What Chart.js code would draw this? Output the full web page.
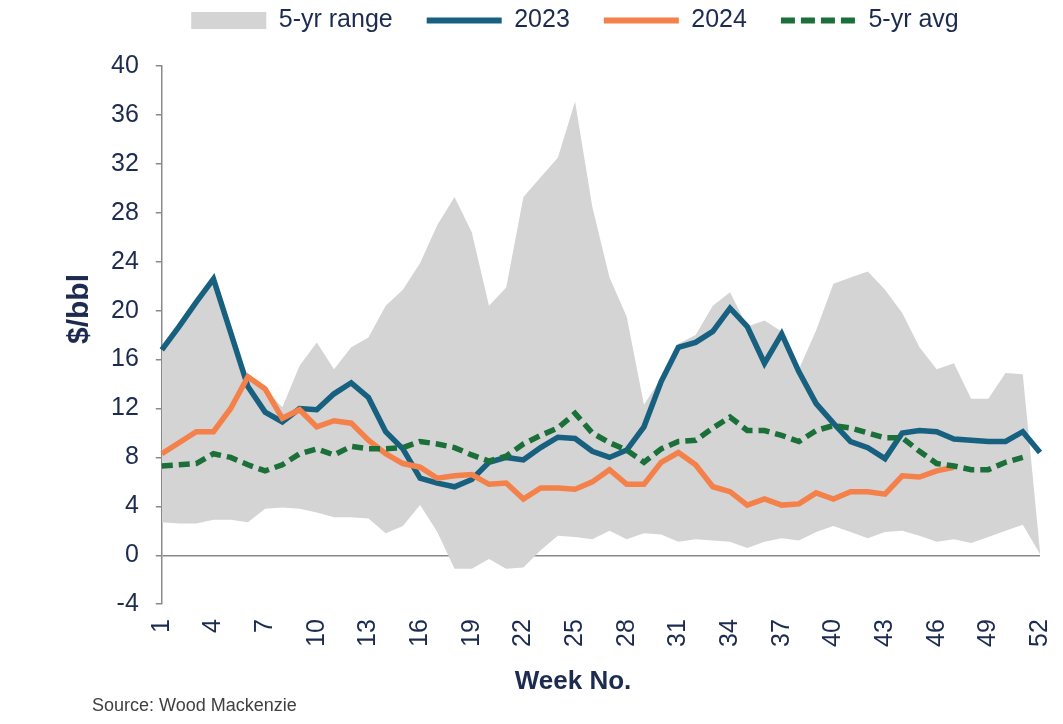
<!DOCTYPE html>
<html>
<head>
<meta charset="utf-8">
<script src="https://cdn.jsdelivr.net/npm/chart.js@4.4.0/dist/chart.umd.min.js"></script>
<style>
  html, body { margin: 0; padding: 0; background: #fff; }
  #wrap { position: relative; width: 1063px; height: 724px; }
  #source { position: absolute; left: 92px; top: 695px; font: 18px "Liberation Sans", Arial, sans-serif; color: #404040; }
  #xtitle { position: absolute; left: 473px; width: 200px; top: 665px; line-height: 30px; text-align: center;
    font: bold 26px "Liberation Sans", Arial, sans-serif; color: #1c2b4f; }
  #ytitle { position: absolute; left: 28px; width: 100px; top: 292px; height: 34px; line-height: 34px; text-align: center;
    font: bold 30px "Liberation Sans", Arial, sans-serif; color: #1c2b4f; transform: rotate(-90deg); }
</style>
</head>
<body>
<div id="wrap">
  <canvas id="myChart" width="1063" height="724"></canvas>
  <div id="ytitle">$/bbl</div>
  <div id="xtitle">Week No.</div>
  <div id="source">Source: Wood Mackenzie</div>
</div>
<script>
const weeks = [1,2,3,4,5,6,7,8,9,10,11,12,13,14,15,16,17,18,19,20,21,22,23,24,25,26,
  27,28,29,30,31,32,33,34,35,36,37,38,39,40,41,42,43,44,45,46,47,48,49,50,51,52];
const shownWeeks = [1,4,7,10,13,16,19,22,25,28,31,34,37,40,43,46,49,52];

const rangeHigh = [16.8,18.7,20.7,22.6,18.2,14.6,13.6,12.1,15.5,17.4,15.2,17.0,17.8,20.4,21.7,23.9,27.0,29.3,26.4,20.4,
  21.9,29.3,30.9,32.5,37.1,28.5,22.7,19.5,12.3,14.5,17.3,18.0,20.4,21.5,18.7,19.2,18.3,15.2,18.4,22.2,
  22.7,23.2,21.7,19.8,17.0,15.2,15.7,12.8,12.8,14.9,14.8,0.3];
const rangeLow = [2.7,2.6,2.6,2.9,2.9,2.7,3.8,3.9,3.8,3.5,3.1,3.1,3.0,1.8,2.4,4.1,1.9,-1.1,-1.1,-0.3,
  -1.1,-1.0,0.4,1.6,1.5,1.3,2.0,1.3,1.8,1.7,1.1,1.3,1.2,1.1,0.6,1.1,1.4,1.2,1.9,2.4,
  1.9,1.4,1.9,2.0,1.6,1.1,1.3,1.0,1.5,2.0,2.5,0.1];
const y2023 = [16.8,18.7,20.7,22.6,18.2,13.8,11.7,10.9,12.0,11.9,13.2,14.1,12.9,10.1,8.7,6.3,5.9,5.6,6.2,7.6,
  8.0,7.8,8.8,9.65,9.55,8.5,8.0,8.6,10.5,14.2,17.0,17.4,18.3,20.2,18.7,15.7,18.1,15.0,12.4,10.8,
  9.3,8.8,7.9,10.0,10.2,10.1,9.5,9.4,9.3,9.3,10.1,8.4];
const y2024 = [8.3,9.2,10.1,10.1,12.0,14.6,13.6,11.2,11.9,10.5,11.0,10.8,9.4,8.3,7.5,7.2,6.3,6.5,6.6,5.8,
  5.9,4.6,5.5,5.5,5.4,6.0,7.0,5.8,5.8,7.6,8.4,7.4,5.6,5.2,4.1,4.6,4.1,4.2,5.1,4.6,
  5.2,5.2,5.0,6.5,6.4,6.9,7.2];
const avg5 = [7.3,7.4,7.5,8.3,8.0,7.4,6.9,7.4,8.3,8.7,8.2,8.9,8.7,8.7,8.8,9.3,9.1,8.8,8.2,7.7,
  8.1,9.1,9.8,10.4,11.6,10.0,9.2,8.6,7.6,8.7,9.3,9.4,10.4,11.3,10.2,10.2,9.8,9.3,10.2,10.6,
  10.4,10.0,9.6,9.6,8.5,7.5,7.3,7.0,7.0,7.6,8.0];

const navy = '#1c2b4f';
const grey = '#d4d4d4';
const blue = '#17607f';
const orange = '#f4804a';
const green = '#1a7038';
const axisGrey = '#8a8a8a';
const font = '"Liberation Sans", Arial, sans-serif';

// taller legend box so the plot starts lower, and nudge the legend right a bit
const legendTweak = {
  id: 'legendTweak',
  afterInit(chart) {
    const lg = chart.legend;
    const fit = lg.fit;
    lg.fit = function () {
      fit.call(this);
      this.height = 92;
    };
  },
  afterLayout(chart) {
    chart.legend.left += 8;
    chart.legend.right += 8;
  }
};

const ctx = document.getElementById('myChart');
const myChart = new Chart(ctx, {
  type: 'line',
  plugins: [legendTweak],
  data: {
    labels: weeks,
    datasets: [
      {
        label: '5-yr range',
        data: rangeHigh,
        borderWidth: 0,
        backgroundColor: grey,
        fill: '+1',
        pointRadius: 0,
        order: 10
      },
      {
        label: 'low',
        data: rangeLow,
        borderWidth: 0,
        backgroundColor: grey,
        fill: false,
        pointRadius: 0,
        order: 11
      },
      {
        label: '2023',
        data: y2023,
        borderColor: blue,
        backgroundColor: blue,
        borderWidth: 5.5,
        pointRadius: 0,
        order: 3
      },
      {
        label: '2024',
        data: y2024,
        borderColor: orange,
        backgroundColor: orange,
        borderWidth: 5.5,
        pointRadius: 0,
        order: 2
      },
      {
        label: '5-yr avg',
        data: avg5,
        borderColor: green,
        backgroundColor: green,
        borderWidth: 5.5,
        borderDash: [11, 6],
        pointRadius: 0,
        order: 1
      }
    ]
  },
  options: {
    responsive: false,
    animation: false,
    layout: { padding: { left: 94, right: 23, top: -26, bottom: 62 } },
    elements: { line: { tension: 0 } },
    plugins: {
      tooltip: { enabled: false },
      legend: {
        position: 'top',
        labels: {
          color: navy,
          font: { family: font, size: 25 },
          usePointStyle: true,
          pointStyleWidth: 75,
          boxWidth: 75,
          boxHeight: 17,
          padding: 34,
          filter: (item) => item.text !== 'low',
          sort: (a, b) => a.datasetIndex - b.datasetIndex,
          generateLabels: (chart) => {
            const items = Chart.defaults.plugins.legend.labels.generateLabels(chart);
            items.forEach((it) => {
              if (it.text === '5-yr range') {
                it.pointStyle = 'rect';
                it.lineWidth = 0;
                it.fillStyle = grey;
                it.strokeStyle = grey;
              } else {
                it.pointStyle = 'line';
                it.lineWidth = 6;
                if (it.text === '5-yr avg') it.lineDash = [14, 6];
              }
            });
            return items;
          }
        }
      }
    },
    scales: {
      x: {
        offset: false,
        border: { display: false },
        grid: { display: false, drawTicks: false },
        afterFit: (scale) => {
          scale.paddingLeft = 0;
          scale.paddingRight = 0;
        },
        ticks: {
          autoSkip: false,
          minRotation: 90,
          maxRotation: 90,
          padding: 15,
          color: navy,
          font: { family: font, size: 25 },
          callback: function (value, index) {
            const w = weeks[index];
            return shownWeeks.includes(w) ? String(w) : '';
          }
        }
      },
      y: {
        min: -4,
        max: 40,
        border: { display: true, color: axisGrey, width: 1.5 },
        grid: {
          drawOnChartArea: true,
          color: (c) => (c.tick && c.tick.value === 0 ? axisGrey : 'rgba(0,0,0,0)'),
          lineWidth: 1.5,
          tickColor: axisGrey,
          tickLength: 6
        },
        ticks: {
          stepSize: 4,
          padding: 17,
          color: navy,
          font: { family: font, size: 25 }
        }
      }
    }
  }
});
</script>
</body>
</html>
